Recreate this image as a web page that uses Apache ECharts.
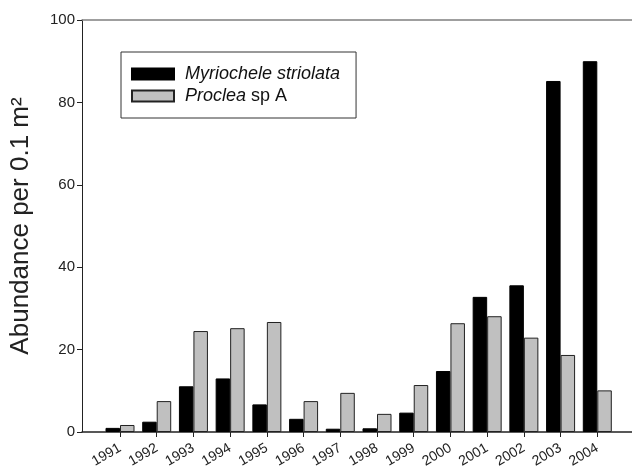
<!DOCTYPE html>
<html>
<head>
<meta charset="utf-8">
<script src="https://cdn.jsdelivr.net/npm/echarts@6/dist/echarts.min.js"></script>
<style>html,body{margin:0;padding:0;background:#fff}#c{width:632px;height:468px}</style>
</head>
<body>
<div id="c"></div>
<script>
const years = [1991,1992,1993,1994,1995,1996,1997,1998,1999,2000,2001,2002,2003,2004];
const myriochele = [1.0,2.5,11.1,13.0,6.7,3.2,0.8,0.9,4.7,14.8,32.8,35.6,85.2,90.0];
const proclea = [1.7,7.5,24.5,25.2,26.7,7.5,9.5,4.4,11.4,26.4,28.1,22.9,18.7,10.1];
const yTicks = [0,20,40,60,80,100];

const font = 'Liberation Sans, Arial, sans-serif';
const chart = echarts.init(document.getElementById('c'));
const xMin = 1989.965, xMax = 2004.945;
chart.setOption({
  animation: false,
  textStyle: {fontFamily: font},
  grid: {left: 82, right: 0, top: 20, bottom: 36, containLabel: false, outerBoundsMode: 'none'},
  legend: {
    orient: 'vertical', left: 121, top: 52,
    icon: 'rect',
    itemWidth: 42, itemHeight: 11, itemGap: 2,
    borderColor: '#333', borderWidth: 1,
    padding: [12, 16, 12, 10],
    data: ['Myriochele striolata', 'Proclea sp A'],
    formatter: function (n) { return n === 'Proclea sp A' ? '{i|Proclea} sp A' : '{i|Myriochele striolata}'; },
    textStyle: {fontSize: 18, lineHeight: 20, color: '#111', fontFamily: font, padding: [0,0,0,6],
      rich: {i: {fontStyle: 'italic', fontSize: 18, lineHeight: 20, color: '#111', fontFamily: font}}}
  },
  xAxis: [{
    type: 'value', min: xMin, max: xMax,
    axisLine: {show: true, onZero: false, lineStyle: {color: '#222', width: 1.5}},
    axisTick: {show: true, length: 5, customValues: years, lineStyle: {color: '#222'}},
    axisLabel: {customValues: years, rotate: 30, fontSize: 14, color: '#222', margin: 15, fontFamily: font,
      formatter: function (v) { return String(Math.round(v)); }},
    splitLine: {show: false}
  }, {
    type: 'value', position: 'top', min: xMin, max: xMax,
    axisLine: {show: true, onZero: false, lineStyle: {color: '#808080', width: 1.5}},
    axisTick: {show: false}, axisLabel: {show: false}, splitLine: {show: false}
  }],
  yAxis: {
    type: 'value', min: 0, max: 100, interval: 20,
    name: 'Abundance per 0.1 m²', nameLocation: 'middle', nameGap: 48,
    nameTextStyle: {fontSize: 26, color: '#222', fontFamily: font},
    axisLine: {show: true, lineStyle: {color: '#222', width: 1}},
    axisTick: {show: true, length: 5, lineStyle: {color: '#222'}},
    axisLabel: {fontSize: 15, color: '#222', margin: 7, fontFamily: font},
    splitLine: {show: false}
  },
  series: [{
    name: 'Myriochele striolata', type: 'bar', barWidth: 14.5, barGap: '0%',
    itemStyle: {color: '#000', borderColor: '#000', borderWidth: 1},
    data: years.map((y, i) => [y, myriochele[i]])
  }, {
    name: 'Proclea sp A', type: 'bar', barWidth: 14.5, barGap: '0%',
    itemStyle: {color: '#c0c0c0', borderColor: '#222', borderWidth: 1},
    data: years.map((y, i) => [y, proclea[i]])
  }]
});
</script>
</body>
</html>
